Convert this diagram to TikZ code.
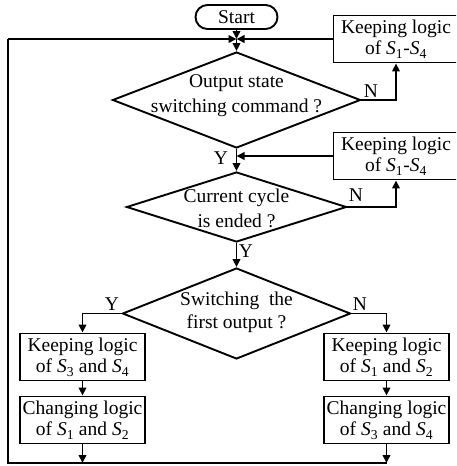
\documentclass[tikz,border=0pt]{standalone}
\usepackage{fontspec}
\setmainfont{Liberation Serif}
\usetikzlibrary{shapes.geometric,arrows.meta}
\newcommand{\Sx}[1]{\textit{S}\textsubscript{#1}}
\tikzset{
  lw/.style={line width=1.9pt},
  arr/.style={lw,-{Triangle[length=8pt,width=7.5pt]}},
  txt/.style={font=\fontsize{19.5}{21.5}\selectfont},
  dtxt/.style={font=\fontsize{19.5}{25}\selectfont,align=center,inner sep=0pt},
  box/.style={draw,lw,rectangle,minimum width=125pt,minimum height=47pt,inner sep=0pt,align=center,txt},
  dia/.style={draw,lw,diamond,inner sep=0pt},
  lab/.style={txt,inner sep=0pt}
}
\begin{document}
\begin{tikzpicture}[x=1pt,y=-1pt]
\clip (0,0) rectangle (456,466);
% start
\node[draw,lw,rounded corners=12pt,minimum width=82pt,minimum height=24pt,inner sep=0pt,txt] (start) at (236.5,17) {Start};
\coordinate (j1) at (236.5,39);
\coordinate (j2) at (236.5,156);
% decisions
\node[dia,minimum width=248pt,minimum height=96pt] (d1) at (236.5,100) {};
\node[dtxt] (d1t) at (236.5,96) {Output state\\switching command ?};
\node[dia,minimum width=220pt,minimum height=70pt] (d2) at (236.5,207) {};
\node[dtxt] (d2t) at (236.5,208) {Current cycle\\is ended ?};
\node[dia,minimum width=228pt,minimum height=91pt] (d3) at (236.5,313.5) {};
\node[dtxt,font=\fontsize{19.5}{23}\selectfont] (d3t) at (236.5,312) {Switching\ \ the\\first output ?};
% boxes
\node[box] (k1) at (396,39) {Keeping logic\\of \Sx{1}-\Sx{4}};
\node[box] (k2) at (396,156) {Keeping logic\\of \Sx{1}-\Sx{4}};
\node[box] (a1) at (82.5,357) {Keeping logic\\of \Sx{3} and \Sx{4}};
\node[box] (a2) at (82.5,420) {Changing logic\\of \Sx{1} and \Sx{2}};
\node[box] (b1) at (386.5,357) {Keeping logic\\of \Sx{1} and \Sx{2}};
\node[box] (b2) at (386.5,420) {Changing logic\\of \Sx{3} and \Sx{4}};
% loop corners
\coordinate (bl) at (8,463);
\coordinate (tl) at (8,39);
\coordinate (br) at (386.5,463);
% connectors
\draw[arr] (start) -- (j1);
\draw[arr] (k1.west) -- (j1);
\draw[arr] (tl) -- (j1);
\draw[arr] (j1) -- (d1.north);
\draw[arr] (d1.east) -| (k1.south);
\draw[lw] (d1.south) -- (j2);
\draw[arr] (k2.west) -- (j2);
\draw[arr] (j2) -- (d2.north);
\draw[arr] (d2.east) -| (k2.south);
\draw[arr] (d2.south) -- (d3.north);
\draw[arr] (d3.west) -| (a1.north);
\draw[arr] (d3.east) -| (b1.north);
\draw[arr] (a1.south) -- (a2.north);
\draw[arr] (b1.south) -- (b2.north);
\draw[arr] (a2.south) -- (a2.south |- bl);
\draw[arr] (b2.south) -- (br);
\draw[lw,line join=miter] (br) -- (bl) -- (tl);
% labels
\node[lab] (n1) at (371,91) {N};
\node[lab] (y1) at (221,158) {Y};
\node[lab] (n2) at (356,195) {N};
\node[lab] (y2) at (246,251) {Y};
\node[lab] (y3) at (112,304) {Y};
\node[lab] (n3) at (360,304) {N};
\end{tikzpicture}
\end{document}
